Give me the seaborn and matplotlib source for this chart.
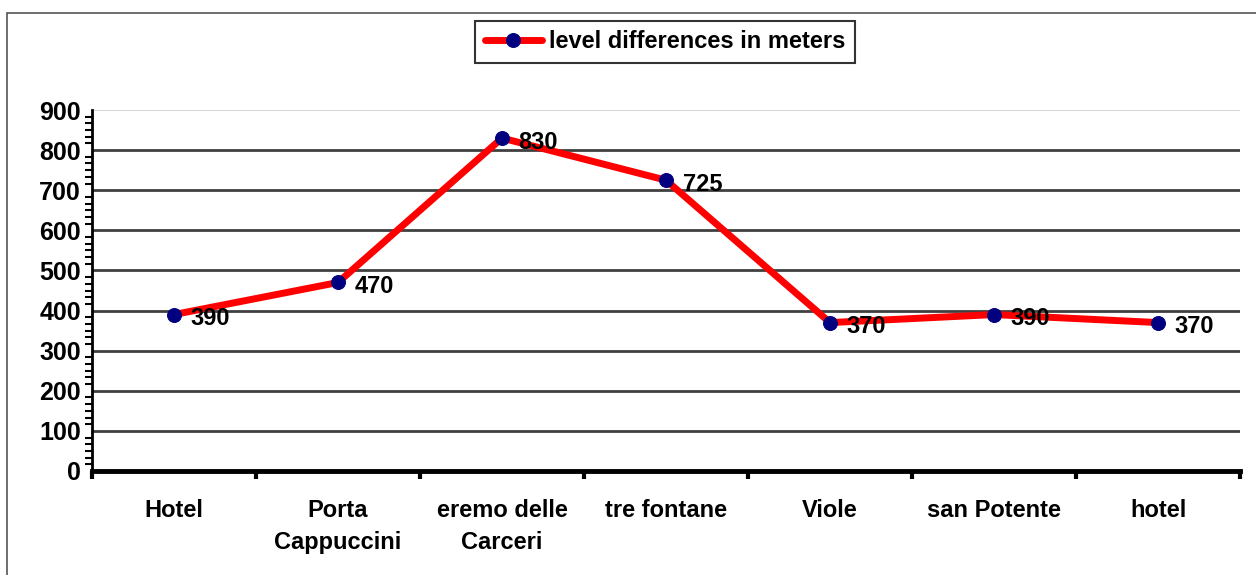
import matplotlib
matplotlib.use("Agg")
import matplotlib.pyplot as plt
from matplotlib.ticker import MultipleLocator, AutoMinorLocator, FixedLocator
from matplotlib.patches import Rectangle
import seaborn as sns
import pandas as pd

stops = ["Hotel", "Porta\nCappuccini", "eremo delle\nCarceri", "tre fontane",
         "Viole", "san Potente", "hotel"]
heights = [390, 470, 830, 725, 370, 390, 370]
series_name = "level differences in meters"

df = pd.DataFrame({"stop": stops, "height": heights, "pos": range(len(stops))})

sns.set_style("white")
plt.rcParams["font.family"] = ["Liberation Sans", "DejaVu Sans"]
plt.rcParams["font.weight"] = "bold"
plt.rcParams["text.color"] = "black"
plt.rcParams["xtick.color"] = "black"
plt.rcParams["ytick.color"] = "black"

fig = plt.figure(figsize=(12.56, 5.75), dpi=100)
ax = fig.add_axes([92 / 1256, 1 - 471 / 575, 1148 / 1256, 361 / 575])

# gridlines
for v in range(100, 900, 100):
    ax.axhline(v, color="#404040", lw=2, zorder=1)
ax.axhline(900, color="#d0d0d0", lw=1.2, zorder=1)

sns.lineplot(data=df, x="pos", y="height", ax=ax, color="red", lw=5,
             marker="o", markersize=10, markerfacecolor="navy",
             markeredgecolor="navy", label=series_name, zorder=3)

for i, h in enumerate(heights):
    ax.annotate(str(h), (i, h), xytext=(12, -3), textcoords="offset points",
                ha="left", va="center", fontsize=17, fontweight="bold",
                color="black", zorder=4)

ax.set_xlim(-0.5, len(stops) - 0.5)
ax.set_ylim(0, 900)
ax.yaxis.set_major_locator(MultipleLocator(100))
ax.yaxis.set_minor_locator(AutoMinorLocator(6))
ax.tick_params(axis="y", which="major", direction="out", length=7, width=2,
               labelsize=18, pad=1)
ax.tick_params(axis="y", which="minor", direction="out", length=5, width=1.5,
               left=True)

# category labels at centres, tick marks at boundaries
ax.xaxis.set_major_locator(FixedLocator([i - 0.5 for i in range(len(stops) + 1)]))
ax.xaxis.set_minor_locator(FixedLocator(list(range(len(stops)))))
ax.set_xticklabels([])
ax.set_xticklabels(stops, minor=True)
ax.tick_params(axis="x", which="major", direction="out", length=6, width=3,
               bottom=True)
ax.tick_params(axis="x", which="minor", length=0, labelsize=17, pad=20)
for lab in ax.get_xticklabels(minor=True):
    lab.set_fontweight("bold")
    lab.set_linespacing(1.5)
for lab in ax.get_yticklabels():
    lab.set_fontweight("bold")

ax.set_xlabel("")
ax.set_ylabel("")
for s in ["top", "right"]:
    ax.spines[s].set_visible(False)
ax.spines["left"].set_color("black")
ax.spines["left"].set_linewidth(2)
ax.spines["bottom"].set_color("black")
ax.spines["bottom"].set_linewidth(3.5)

leg = ax.legend(loc="center", bbox_to_anchor=(665 / 1256, 1 - 42 / 575),
                bbox_transform=fig.transFigure, frameon=True, fancybox=False,
                prop={"weight": "bold", "size": 17}, handlelength=2.4,
                borderpad=0.4, handletextpad=0.3, borderaxespad=0)
leg.get_frame().set_edgecolor("black")
leg.get_frame().set_linewidth(1.5)

fig.patches.append(Rectangle((7 / 1256, -0.1), 1.2, 1.1 - 13 / 575,
                             transform=fig.transFigure, fill=False,
                             edgecolor="#555555", lw=1.2))

fig.savefig("out.png", dpi=100)
